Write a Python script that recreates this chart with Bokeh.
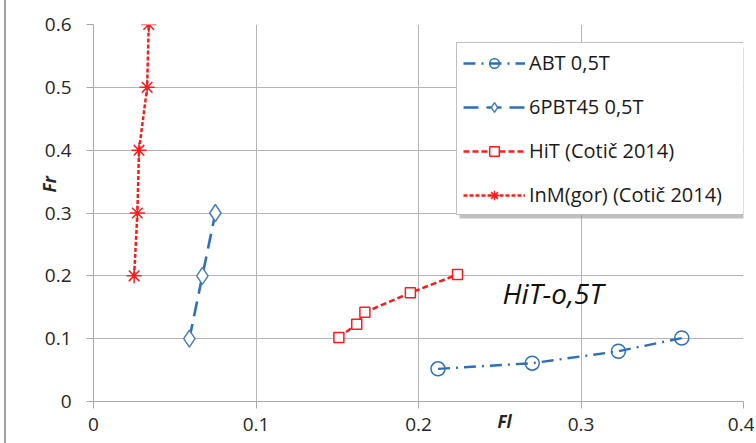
from bokeh.plotting import figure
from bokeh.models import Range1d, Legend, LegendItem, BoxAnnotation, FixedTicker, Label
from bokeh.embed import file_html
from bokeh.resources import INLINE

# ---- data ----
abt_fl = [0.212, 0.270, 0.323, 0.362]
abt_fr = [0.052, 0.061, 0.080, 0.101]

pbt_fl = [0.059, 0.067, 0.075]
pbt_fr = [0.10, 0.20, 0.30]

hit_fl = [0.151, 0.162, 0.167, 0.195, 0.224]
hit_fr = [0.102, 0.123, 0.142, 0.173, 0.202]

inm_fl = [0.025, 0.027, 0.028, 0.033, 0.034]
inm_fr = [0.20, 0.30, 0.40, 0.50, 0.60]

x_ticks = [0, 0.1, 0.2, 0.3, 0.4]
y_ticks = [0, 0.1, 0.2, 0.3, 0.4, 0.5, 0.6]

labels = ["ABT 0,5T", "6PBT45 0,5T", "HiT (Cotič 2014)", "InM(gor) (Cotič 2014)"]
x_title = "Fl"
y_title = "Fr"
note = "HiT-o,5T"

BLUE = "#2e6fb7"
RED = "#ff1a1a"
FONT = "Open Sans"
NBSP = "\u00a0"

p = figure(width=750, height=443, output_backend="svg", toolbar_location=None,
           x_range=Range1d(0, 0.4), y_range=Range1d(0, 0.6),
           min_border_left=87, min_border_right=13, min_border_top=24, min_border_bottom=42)
p.styles = {"margin-left": "4px", "border-left": "2px solid #a0a0a0"}
p.outline_line_color = None
p.background_fill_color = "white"
p.border_fill_color = "white"

for ax, ticks in ((p.xaxis[0], x_ticks), (p.yaxis[0], y_ticks)):
    ax.ticker = FixedTicker(ticks=ticks)
    ax.axis_line_color = "#a8a8a8"
    ax.major_tick_line_color = "#a8a8a8"
    ax.major_tick_out = 7
    ax.major_tick_in = 0
    ax.minor_tick_line_color = None
    ax.major_label_text_font = FONT
    ax.major_label_text_font_size = "19px"
    ax.major_label_text_color = "#262626"
    ax.axis_label_text_font = FONT
    ax.axis_label_text_font_style = "bold italic"
    ax.axis_label_text_font_size = "17px"
    ax.axis_label_text_color = "#262626"
p.xaxis.major_label_standoff = 9
p.yaxis.major_label_standoff = 15
p.xaxis.major_label_overrides = {0: "0", 0.1: "0.1", 0.2: "0.2", 0.3: "0.3", 0.4: "0.4"}
p.yaxis.major_label_overrides = {0: "0"}

# axis titles, shifted along the axis with non-breaking spaces
p.xaxis.axis_label = NBSP * 39 + x_title
p.xaxis.axis_label_standoff = -24
p.yaxis.axis_label = NBSP * 13 + y_title
p.yaxis.axis_label_standoff = -19

p.xgrid.ticker = FixedTicker(ticks=x_ticks)
p.ygrid.ticker = FixedTicker(ticks=y_ticks)
p.grid.grid_line_color = "#b4b4b4"
p.grid.grid_line_width = 1

# legend shadow
shadow = BoxAnnotation(left=0.2252, right=0.4025, top=0.5637, bottom=0.2914,
                       fill_color="#8c8c8c", fill_alpha=0.55, line_color=None)
p.add_layout(shadow)

r1l = p.line(abt_fl, abt_fr, line_color=BLUE, line_width=2.4, line_dash="12 6 2 6")
r1m = p.scatter(abt_fl, abt_fr, marker="circle", size=14, line_color=BLUE, line_width=1.5, fill_alpha=0)

r2l = p.line(pbt_fl, pbt_fr, line_color=BLUE, line_width=2.6, line_dash="15 8")
r2m = p.scatter(pbt_fl, pbt_fr, marker="diamond", size=17, line_color="#4a7ebb", line_width=1.5, fill_color="white")

r3l = p.line(hit_fl, hit_fr, line_color=RED, line_width=2.5, line_dash="6 3")
r3m = p.scatter(hit_fl, hit_fr, marker="square", size=10, line_color=RED, line_width=1.5, fill_color="white")

r4l = p.line(inm_fl, inm_fr, line_color=RED, line_width=2.5, line_dash="4 2")
r4m = p.scatter(inm_fl, inm_fr, marker="asterisk", size=15, line_color=RED, line_width=1.5)

legend = Legend(items=[
    LegendItem(label=labels[0], renderers=[r1l, r1m]),
    LegendItem(label=labels[1], renderers=[r2l, r2m]),
    LegendItem(label=labels[2], renderers=[r3l, r3m]),
    LegendItem(label=labels[3], renderers=[r4l, r4m]),
], location=(363, 186))
legend.label_text_font = FONT
legend.label_text_font_size = "20px"
legend.label_text_color = "#1a1a1a"
legend.glyph_width = 62
legend.glyph_height = 24
legend.label_height = 24
legend.label_width = 208
legend.spacing = 17
legend.padding = 6
legend.label_standoff = 4
legend.border_line_color = "#808080"
legend.border_line_width = 1.5
legend.background_fill_color = "white"
legend.background_fill_alpha = 1
legend.margin = 0
p.add_layout(legend, "center")

p.add_layout(Label(x=0.2517, y=0.172, text=note, text_font=FONT, text_font_style="italic",
                   text_font_size="28px", text_color="#111111", text_baseline="alphabetic"))

open("out.html", "w").write(file_html(p, INLINE))
